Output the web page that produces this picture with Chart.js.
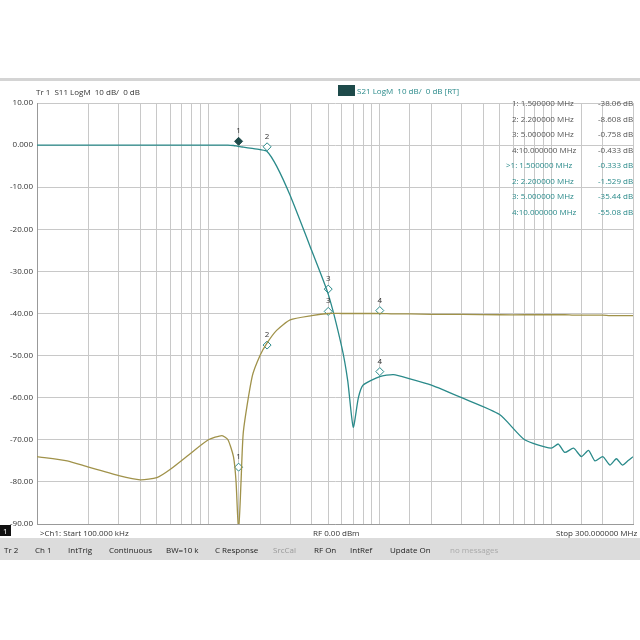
<!DOCTYPE html>
<html><head><meta charset="utf-8">
<script src="https://cdn.jsdelivr.net/npm/chart.js@4"></script>
<style>
body{margin:0;width:640px;height:640px;background:#fff;font-family:"Open Sans",sans-serif;position:relative;overflow:hidden}
.t{position:absolute;font-size:8px;white-space:nowrap;color:#333}
#top{position:absolute;left:0;top:0;width:640px;height:78px;background:#fff;border-bottom:3px solid #d4d4d4}
#bar{position:absolute;left:0;top:538px;width:640px;height:22px;background:#dcdcdc}
#bar span{position:absolute;top:6px;font-size:8px;color:#222}
#wrap{position:absolute;left:0;top:88px;width:640px;height:450px}
</style></head><body>
<div id="top"></div>
<div id="wrap"><canvas id="c"></canvas></div>
<div class="t" style="left:36px;top:86px">Tr 1 &nbsp;S11 LogM &nbsp;10 dB/ &nbsp;0 dB</div>
<div class="t" style="left:338px;top:85px;color:#2a8a8a"><span style="background:#1e4a4a;color:#1e4a4a;padding:0 4px">T2</span> S21 LogM &nbsp;10 dB/ &nbsp;0 dB [RT]</div>
<div class="t" style="left:40px;top:527px">&gt;Ch1: Start 100.000 kHz</div>
<div class="t" style="left:313px;top:527px">RF 0.00 dBm</div>
<div class="t" style="left:556px;top:527px">Stop 300.000000 MHz</div>
<div class="t" style="left:0;top:525px;background:#111;color:#fff;padding:0 3px">1</div>
<div id="bar">
<span style="left:4px">Tr 2</span><span style="left:35px">Ch 1</span><span style="left:68px">IntTrig</span><span style="left:109px">Continuous</span><span style="left:166px">BW=10 k</span><span style="left:215px">C Response</span><span style="left:273px;color:#999">SrcCal</span><span style="left:314px">RF On</span><span style="left:350px">IntRef</span><span style="left:390px">Update On</span><span style="left:450px;color:#aaa">no messages</span>
</div>
<div id="tbl"></div>
<script>
var freqs = [0.1,0.15,0.2,0.3,0.4,0.5,0.6,0.8,1.0,1.2,1.3,1.4,1.45,1.5,1.55,1.6,1.8,2.0,2.2,2.5,3,4,5,6,6.5,7,7.5,8,10,12,15,20,30,50,70,100,110,120,135,150,165,180,200,220,240,260,280,300];
var s11 = [-74,-75,-76.5,-78.5,-79.5,-79,-77,-73,-70,-69,-70,-74,-80,-92,-80,-68,-55,-50,-47,-44,-41.5,-40.5,-40,-40,-40,-40,-40,-40,-40,-40.1,-40.1,-40.2,-40.2,-40.3,-40.3,-40.3,-40.3,-40.3,-40.4,-40.4,-40.4,-40.4,-40.4,-40.5,-40.5,-40.5,-40.5,-40.5];
var s21 = [0,0,0,0,0,0,0,0,0,0,0,-0.1,-0.2,-0.33,-0.4,-0.5,-0.8,-1.1,-1.5,-5,-12,-25,-35.4,-48,-56,-67,-60,-57,-55,-54.5,-55.5,-57,-60,-64,-70,-72,-71,-73,-72,-74,-72.5,-75,-74,-76,-74.5,-76,-75,-74];
var mkFreq = [1.5,2.2,5,10];
var mkS11 = [-76.5,-47.5,-39.5,-39.3];
var mkS21 = [0.9,-0.4,-34.2,-53.8];
var tblS11 = ['-38.06 dB','-8.608 dB','-0.758 dB','-0.433 dB'];
var tblS21 = ['-0.333 dB','-1.529 dB','-35.44 dB','-55.08 dB'];
var tblF = ['1.500000 MHz','2.200000 MHz','5.000000 MHz','10.000000 MHz'];
var yTicks = [10,0,-10,-20,-30,-40,-50,-60,-70,-80,-90];

var c11 = '#a0924a', c21 = '#2a8a8a';
function pts(v){ return freqs.map(function(f,i){ return {x:f,y:v[i]}; }); }
function mpts(v){ return mkFreq.map(function(f,i){ return {x:f,y:v[i]}; }); }

var h = '';
for (var i = 0; i < 4; i++) {
  h += '<div class="t" style="left:512px;top:' + (97+i*15.5) + 'px;color:#555">' + (i+1) + ':' + (i==3?'':' ') + tblF[i] + '</div><div class="t" style="left:598px;top:' + (97+i*15.5) + 'px;color:#555">' + tblS11[i] + '</div>';
  h += '<div class="t" style="left:' + (i==0?506:512) + 'px;top:' + (159+i*15.5) + 'px;color:' + c21 + '">' + (i==0?'&gt;':'') + (i+1) + ':' + (i==3?'':' ') + tblF[i] + '</div><div class="t" style="left:598px;top:' + (159+i*15.5) + 'px;color:' + c21 + '">' + tblS21[i] + '</div>';
}
document.getElementById('tbl').innerHTML = h;

var mkLabels = {
  id: 'mkLabels',
  afterDatasetsDraw: function(chart){
    var ctx = chart.ctx;
    ctx.save();
    ctx.font = '8px "Open Sans"';
    ctx.textAlign = 'center';
    [2,3].forEach(function(di){
      chart.getDatasetMeta(di).data.forEach(function(p,i){
        ctx.fillStyle = '#333';
        ctx.fillText(String(i+1), p.x, p.y - 8);
      });
    });
    ctx.restore();
  }
};

new Chart(document.getElementById('c'), {
  type: 'scatter',
  data: { datasets: [
    { data: pts(s11), showLine: true, borderColor: c11, borderWidth: 1.3, pointRadius: 0, tension: 0.2 },
    { data: pts(s21), showLine: true, borderColor: c21, borderWidth: 1.3, pointRadius: 0, tension: 0.2 },
    { data: mpts(mkS11), pointStyle: 'rectRot', pointRadius: 4, backgroundColor: '#fff', borderColor: c21, borderWidth: 1 },
    { data: mpts(mkS21), pointStyle: 'rectRot', pointRadius: 4,
      backgroundColor: ['#1e4a4a','#fff','#fff','#fff'], borderColor: ['#1e4a4a',c21,c21,c21], borderWidth: 1 }
  ]},
  options: {
    responsive: true, maintainAspectRatio: false, animation: false,
    layout: { padding: { top: 15, bottom: 14, right: 7 } },
    plugins: { legend: { display: false }, tooltip: { enabled: false } },
    scales: {
      x: { type: 'logarithmic', min: 0.1, max: 300,
           ticks: { display: false }, grid: { color: '#c8c8c8', drawTicks: false }, border: { color: '#999' } },
      y: { min: -90, max: 10,
           afterFit: function(a){ a.width = 37; },
           afterBuildTicks: function(a){ a.ticks = yTicks.map(function(v){ return {value:v}; }); },
           ticks: { font: { size: 8, family: 'Open Sans' }, color: '#333', padding: 4,
                    callback: function(v){ return v === 0 ? '0.000' : v.toFixed(2); } },
           grid: { color: '#c8c8c8', drawTicks: false }, border: { color: '#999' } }
    }
  },
  plugins: [mkLabels]
});
</script>
</body></html>
